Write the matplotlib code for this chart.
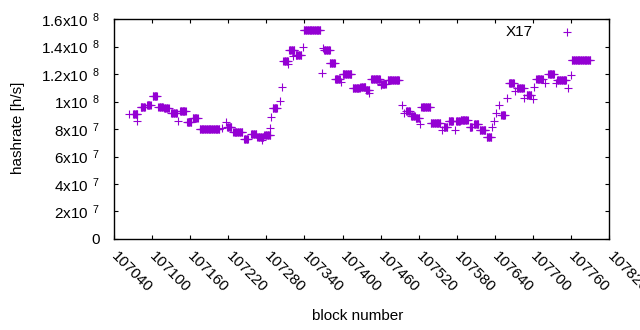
import numpy as np
import matplotlib
matplotlib.use("Agg")
import matplotlib.pyplot as plt

plt.rcParams['font.family'] = ['Liberation Sans', 'DejaVu Sans']
plt.rcParams['mathtext.fontset'] = 'custom'
plt.rcParams['mathtext.rm'] = 'Liberation Sans'

# runs of blocks with the same hashrate: first block, number of blocks, value (1e6 h/s)
run_start = [107064, 107070, 107076, 107082, 107092, 107101, 107110, 107119, 107130, 107141,
             107144, 107155, 107164, 107175, 107210, 107216, 107218, 107228, 107245, 107256,
             107266, 107273, 107277, 107286, 107288, 107290, 107301, 107305, 107307, 107314,
             107316, 107322, 107326, 107337, 107339, 107367, 107369, 107371, 107380, 107388,
             107397, 107400, 107416, 107428, 107437, 107441, 107445, 107460, 107460, 107471,
             107494, 107497, 107500, 107508, 107515, 107522, 107524, 107539, 107556, 107559,
             107567, 107577, 107579, 107586, 107600, 107601, 107607, 107616, 107627, 107636,
             107639, 107641, 107647, 107650, 107659, 107662, 107672, 107675, 107686, 107690,
             107700, 107702, 107705, 107719, 107724, 107736, 107738, 107755, 107759, 107761]
run_len = [1, 8, 1, 8, 7, 8, 8, 8, 10, 1,
           10, 8, 9, 32, 1, 1, 8, 15, 7, 9,
           10, 1, 10, 1, 1, 8, 1, 1, 8, 1,
           9, 1, 10, 1, 27, 1, 1, 10, 9, 9,
           1, 15, 12, 9, 6, 1, 15, 1, 9, 19,
           1, 1, 7, 7, 7, 1, 15, 16, 1, 7,
           8, 1, 7, 12, 1, 4, 8, 10, 8, 1,
           1, 1, 1, 7, 1, 9, 1, 11, 1, 8,
           1, 1, 11, 1, 10, 1, 15, 1, 1, 30]
run_val = [90.7, 90.6, 86.0, 95.8, 97.7, 103.8, 96.0, 95.0, 91.4, 86.0,
           93.0, 85.0, 87.8, 80.2, 80.5, 85.0, 81.5, 78.0, 72.7, 76.4,
           74.4, 72.0, 75.6, 81.0, 88.5, 95.6, 100.6, 110.8, 129.5, 127.0,
           137.2, 133.0, 133.8, 139.8, 152.0, 120.5, 138.7, 137.2, 128.0, 116.6,
           114.0, 120.0, 109.6, 110.3, 108.4, 106.0, 116.1, 112.0, 112.5, 116.0,
           97.5, 91.4, 93.0, 89.7, 87.8, 83.4, 95.8, 84.1, 79.3, 81.2,
           85.8, 79.3, 85.8, 86.5, 81.7, 81.7, 83.4, 79.3, 74.0, 81.7,
           86.0, 91.4, 97.5, 90.2, 102.3, 113.5, 107.6, 109.6, 102.3, 105.0,
           101.6, 110.3, 116.6, 113.7, 120.0, 113.7, 115.4, 109.6, 119.0, 130.0]

xticks = list(range(107040, 107821, 60))
yticks = [0, 2e7, 4e7, 6e7, 8e7, 1e8, 1.2e8, 1.4e8, 1.6e8]
ylabels = ['0', '2x10', '4x10', '6x10', '8x10', '1x10', '1.2x10', '1.4x10', '1.6x10']
yexp = ['', '7', '7', '7', '7', '8', '8', '8', '8']

blocks = []
rates = []
for s, n, v in zip(run_start, run_len, run_val):
    for b in range(s, s + n):
        blocks.append(b)
        rates.append(v * 1e6)
blocks = np.array(blocks)
rates = np.array(rates)

fs = 11
color = '#9400D3'
fig = plt.figure(figsize=(6.4, 3.3), dpi=100)
ax = fig.add_axes([0.178, 0.276, 0.774, 0.666])
ax.plot(blocks, rates, '+', color=color, markersize=5.8, markeredgewidth=0.8, linestyle='none')

ax.set_xlim(107040, 107820)
ax.set_ylim(0, 1.6e8)
ax.set_xticks(xticks)
ax.set_xticklabels([str(t) for t in xticks], rotation=-45, ha='left', va='center',
                   rotation_mode='anchor')
ax.set_yticks(yticks)
ax.set_yticklabels(['$\\mathregular{%s^{\\enspace %s}}$' % (m, e) if e else m
                    for m, e in zip(ylabels, yexp)])
ax.tick_params(direction='in', length=3, width=0.8, top=True, right=True, labelsize=fs)
ax.tick_params(axis='x', pad=10.8)
ax.tick_params(axis='y', pad=10)
for sp in ax.spines.values():
    sp.set_linewidth(1.0)

ax.set_xlabel('block number', fontsize=fs)
ax.set_ylabel('hashrate [h/s]', fontsize=fs)
ax.xaxis.set_label_coords(0.493, -0.318)
ax.yaxis.set_label_coords(-0.18, 0.505)

# key, top right like gnuplot
ax.text(0.846, 0.941, 'X17', transform=ax.transAxes, ha='right', va='center', fontsize=fs)
ax.plot([0.915], [0.941], '+', color=color, markersize=5.8, markeredgewidth=0.8,
        transform=ax.transAxes, clip_on=False)

fig.savefig('out.png', dpi=100)
